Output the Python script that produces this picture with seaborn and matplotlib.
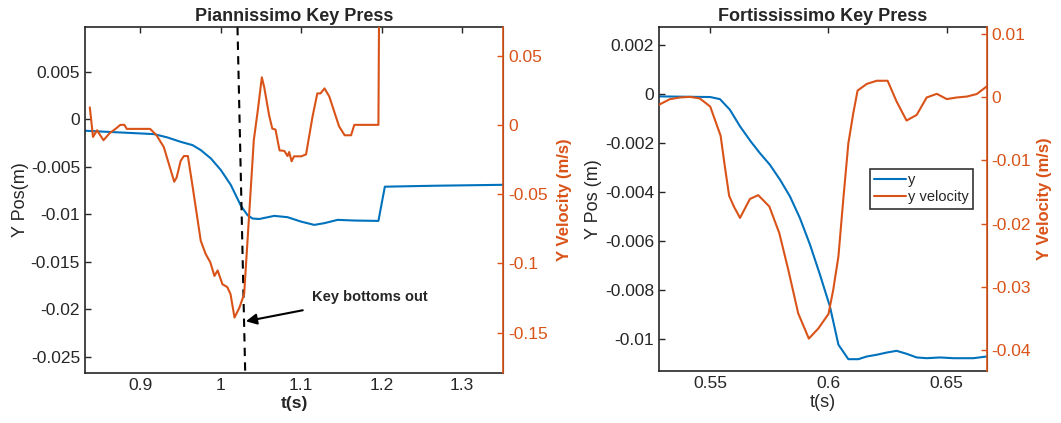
import matplotlib
matplotlib.use("Agg")
import matplotlib.pyplot as plt
import seaborn as sns
from matplotlib.ticker import FuncFormatter
from matplotlib.lines import Line2D

# --- pianissimo press ---
pp_t = [0.832, 0.9004, 0.917, 0.9336, 0.950, 0.9648, 0.975, 0.9876, 1.0, 1.0124, 1.0249,
        1.0332, 1.0395, 1.0477, 1.0664, 1.083, 1.0996, 1.1162, 1.1286, 1.1452, 1.166,
        1.196, 1.204, 1.266, 1.352]
pp_y = [-0.00122, -0.0015, -0.00157, -0.00192, -0.00238, -0.00273, -0.00325, -0.00413,
        -0.00535, -0.00692, -0.0091, -0.0101, -0.01045, -0.0105, -0.01017, -0.01031,
        -0.01077, -0.01112, -0.01094, -0.01059, -0.01066, -0.0107, -0.0071, -0.0070, -0.0069]
pp_vt = [0.837, 0.841, 0.846, 0.854, 0.862, 0.869, 0.875, 0.880, 0.883, 0.912, 0.920, 0.929,
         0.942, 0.945, 0.950, 0.954, 0.959, 0.965, 0.975, 0.981, 0.987, 0.992, 0.996, 1.002,
         1.008, 1.012, 1.017, 1.023, 1.029, 1.035, 1.041, 1.046, 1.051, 1.054, 1.060, 1.064,
         1.068, 1.073, 1.079, 1.083, 1.085, 1.088, 1.091, 1.100, 1.106, 1.114, 1.120, 1.124,
         1.129, 1.135, 1.147, 1.154, 1.162, 1.166, 1.196, 1.198]
pp_v = [0.0126, -0.0087, -0.0039, -0.0111, -0.0058, -0.0029, 0.0, 0.0, -0.0029, -0.0029,
        -0.0075, -0.016, -0.041, -0.038, -0.026, -0.0225, -0.0225, -0.045, -0.0836, -0.093,
        -0.0993, -0.109, -0.105, -0.115, -0.117, -0.122, -0.139, -0.132, -0.122, -0.0667,
        -0.011, 0.0106, 0.0343, 0.027, 0.007, -0.0027, -0.0034, -0.0184, -0.0188, -0.0225,
        -0.0196, -0.0263, -0.0227, -0.0227, -0.0213, 0.0058, 0.0227, 0.0227, 0.0263, 0.0203,
        -0.001, -0.0075, -0.0075, 0.0, 0.0, 0.2]

# --- fortississimo press ---
ff_t = [0.5283, 0.55, 0.5541, 0.5583, 0.5626, 0.5671, 0.571, 0.5752, 0.5795, 0.5837, 0.5879,
        0.5922, 0.5964, 0.6006, 0.6042, 0.6084, 0.6126, 0.6162, 0.6204, 0.6246, 0.6288,
        0.633, 0.6373, 0.6415, 0.6472, 0.6528, 0.6613, 0.6669]
ff_y = [-0.00011, -0.000136, -0.00022, -0.00065, -0.00133, -0.00194, -0.00242, -0.00289,
        -0.0035, -0.00418, -0.00506, -0.00615, -0.00737, -0.00866, -0.01022, -0.01081,
        -0.01081, -0.0107, -0.01063, -0.01054, -0.01047, -0.01059, -0.01074, -0.01077,
        -0.01074, -0.01077, -0.01077, -0.0107]
ff_vt = [0.5283, 0.5329, 0.5372, 0.5414, 0.5456, 0.55, 0.5544, 0.5562, 0.558, 0.56, 0.5626,
         0.5668, 0.5703, 0.575, 0.5792, 0.583, 0.5872, 0.5917, 0.5957, 0.6, 0.602, 0.6042,
         0.6063, 0.6084, 0.6105, 0.6123, 0.6162, 0.6204, 0.625, 0.6288, 0.633, 0.6373,
         0.6415, 0.6458, 0.65, 0.6542, 0.6585, 0.6627, 0.6669]
ff_v = [-0.00121, -0.00032, -0.00005, 0.00005, -0.0002, -0.00148, -0.0061, -0.011, -0.0156,
        -0.0173, -0.0191, -0.0161, -0.0155, -0.0173, -0.0215, -0.0273, -0.0342, -0.0382,
        -0.0366, -0.0343, -0.0305, -0.0252, -0.016, -0.0073, -0.0025, 0.00105, 0.0021,
        0.0026, 0.0026, -0.00069, -0.0037, -0.0028, -0.00005, 0.00053, -0.0003, -0.00005,
        0.0001, 0.0005, 0.0017]

BLUE = "#0072BD"
ORANGE = "#D95319"

sns.set_style("white")
plt.rcParams['font.family'] = ['Liberation Sans', 'DejaVu Sans']
plt.rcParams['axes.unicode_minus'] = False

fig = plt.figure(figsize=(10.61, 4.23), dpi=100)
ax1 = fig.add_axes([0.0801, 0.1182, 0.394, 0.818])
ax3 = fig.add_axes([0.621, 0.123, 0.309, 0.814])

fmt = FuncFormatter(lambda v, p: '%g' % round(v, 6))


def style_pair(ax, ax2, xlim, ylim, vlim, xticks, yticks, vticks):
    ax.set_xlim(*xlim)
    ax.set_ylim(*ylim)
    ax2.set_ylim(*vlim)
    ax.set_xticks(xticks)
    ax.set_yticks(yticks)
    ax2.set_yticks(vticks)
    for a in (ax, ax2):
        a.xaxis.set_major_formatter(fmt)
        a.yaxis.set_major_formatter(fmt)
    ax.tick_params(direction='in', top=True, right=False, length=4, width=1,
                   labelsize=12.5, colors='#262626')
    ax2.tick_params(axis='y', direction='in', length=4, width=1, labelsize=12.5,
                    colors=ORANGE)
    for s in ['left', 'bottom', 'top']:
        ax.spines[s].set_color('#262626')
        ax.spines[s].set_linewidth(1.2)
    ax2.spines['right'].set_color(ORANGE)
    ax2.spines['right'].set_linewidth(1.2)
    for s in ['left', 'bottom', 'top']:
        ax2.spines[s].set_visible(False)


# left panel
ax2 = ax1.twinx()
sns.lineplot(x=pp_t, y=pp_y, ax=ax1, color=BLUE, linewidth=1.5, estimator=None, sort=False)
sns.lineplot(x=pp_vt, y=pp_v, ax=ax2, color=ORANGE, linewidth=1.5, estimator=None, sort=False)
style_pair(ax1, ax2, (0.831, 1.351), (-0.0267, 0.0097), (-0.179, 0.0706),
           [0.9, 1.0, 1.1, 1.2, 1.3],
           [0.005, 0, -0.005, -0.01, -0.015, -0.02, -0.025],
           [0.05, 0, -0.05, -0.1, -0.15])
ax1.set_title('Piannissimo Key Press', fontsize=13, fontweight='bold', pad=4)
ax1.set_xlabel('t(s)', fontsize=12.5, fontweight='bold', labelpad=2)
ax1.set_ylabel('Y Pos(m)', fontsize=13, labelpad=1)
ax2.set_ylabel('Y Velocity (m/s)', fontsize=12, fontweight='bold', color=ORANGE, labelpad=7)

# key bottom-out marker
bottom_t = (1.0207, 1.0303)
ax1.plot(bottom_t, (0.0097, -0.0267), color='black', linestyle=(0, (4, 3)), linewidth=1.5)
ax1.annotate('Key bottoms out', xy=(1.0311, -0.02126), xytext=(1.1129, -0.01874),
             fontsize=10.5, fontweight='bold', va='center', ha='left',
             arrowprops=dict(arrowstyle='-|>', color='black', lw=1.5,
                             mutation_scale=16, shrinkA=10, shrinkB=0))

# right panel
ax4 = ax3.twinx()
sns.lineplot(x=ff_t, y=ff_y, ax=ax3, color=BLUE, linewidth=1.5, estimator=None, sort=False)
sns.lineplot(x=ff_vt, y=ff_v, ax=ax4, color=ORANGE, linewidth=1.5, estimator=None, sort=False)
style_pair(ax3, ax4, (0.5283, 0.6669), (-0.01129, 0.00273), (-0.04332, 0.01116),
           [0.55, 0.6, 0.65],
           [0.002, 0, -0.002, -0.004, -0.006, -0.008, -0.01],
           [0.01, 0, -0.01, -0.02, -0.03, -0.04])
ax3.set_title('Fortississimo Key Press', fontsize=13, fontweight='bold', pad=4)
ax3.set_xlabel('t(s)', fontsize=13, labelpad=2)
ax3.set_ylabel('Y Pos (m)', fontsize=13, labelpad=2)
ax4.set_ylabel('Y Velocity (m/s)', fontsize=12, fontweight='bold', color=ORANGE, labelpad=4)

handles = [Line2D([], [], color=BLUE, lw=1.5), Line2D([], [], color=ORANGE, lw=1.5)]
leg = ax4.legend(handles, ['y', 'y velocity'], loc='upper left', bbox_to_anchor=(0.644, 0.587),
                 fontsize=10.5, frameon=True, fancybox=False, handlelength=2.2,
                 handletextpad=0.1, borderpad=0.3, labelspacing=0.2, borderaxespad=0)
leg.get_frame().set_edgecolor('black')
leg.get_frame().set_linewidth(1.2)

fig.savefig('out.png', dpi=100)
